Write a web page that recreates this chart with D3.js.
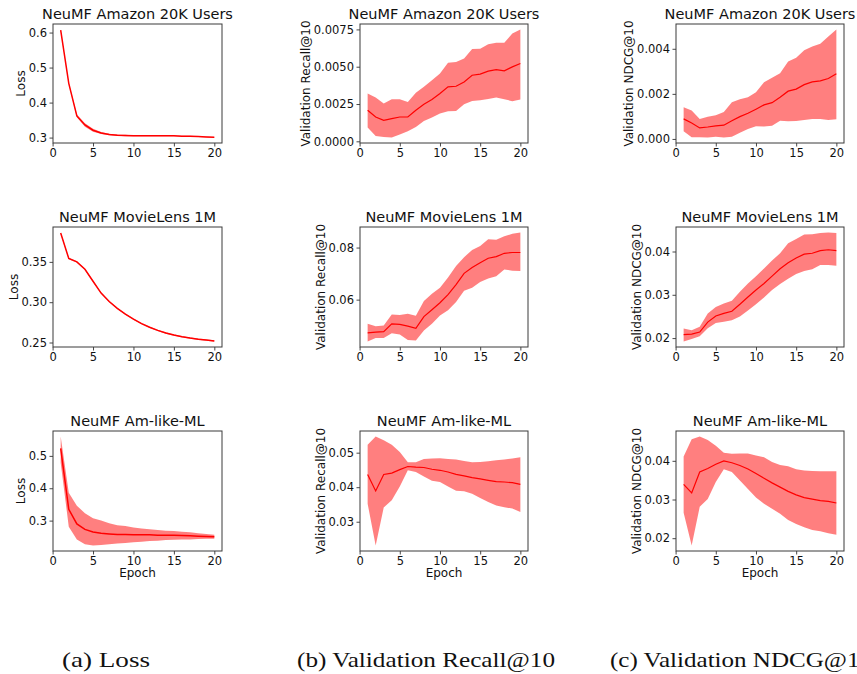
<!DOCTYPE html>
<html>
<head>
<meta charset="utf-8">
<script src="https://cdn.jsdelivr.net/npm/d3@7"></script>
<style>
  body { margin: 0; background: #fff; }
  svg { display: block; font-family: "DejaVu Sans", sans-serif; }
</style>
</head>
<body>
<div id="chart"></div>
<script>
// Epochs on the x axis (same for every panel)
const epochs = d3.range(1, 21);

// Amazon 20K Users
const lossAmzMean = [0.607,0.455,0.362,0.336,0.321,0.313,0.309,0.307,0.306,0.305,0.305,0.305,0.305,0.305,0.305,0.304,0.304,0.303,0.302,0.301];
const lossAmzLo   = [0.605,0.453,0.358,0.331,0.317,0.310,0.307,0.305,0.304,0.304,0.304,0.304,0.304,0.304,0.304,0.303,0.303,0.302,0.301,0.300];
const lossAmzHi   = [0.609,0.457,0.366,0.341,0.325,0.316,0.311,0.309,0.308,0.306,0.306,0.306,0.306,0.306,0.306,0.305,0.305,0.304,0.303,0.302];
const recAmzMean = [0.00208,0.00163,0.00141,0.00152,0.00163,0.00163,0.00208,0.00248,0.00280,0.00320,0.00365,0.00369,0.00398,0.00443,0.00450,0.00470,0.00481,0.00472,0.00499,0.00522];
const recAmzLo   = [0.00092,0.00036,0.00029,0.00025,0.00045,0.00067,0.00096,0.00137,0.00159,0.00186,0.00201,0.00204,0.00248,0.00271,0.00275,0.00284,0.00293,0.00282,0.00269,0.00280];
const recAmzHi   = [0.00320,0.00293,0.00253,0.00282,0.00282,0.00264,0.00325,0.00365,0.00410,0.00454,0.00526,0.00531,0.00555,0.00618,0.00620,0.00651,0.00660,0.00660,0.00723,0.00750];
const ndcgAmzMean = [0.00089,0.00071,0.00049,0.00053,0.00058,0.00061,0.00081,0.00099,0.00114,0.00132,0.00151,0.00161,0.00185,0.00212,0.00221,0.00241,0.00253,0.00258,0.00268,0.00289];
const ndcgAmzLo   = [0.00034,0.00007,0.00007,0.00006,0.00010,0.00006,0.00010,0.00028,0.00044,0.00056,0.00055,0.00058,0.00081,0.00079,0.00080,0.00084,0.00089,0.00089,0.00084,0.00087];
const ndcgAmzHi   = [0.00141,0.00126,0.00089,0.00099,0.00105,0.00119,0.00163,0.00176,0.00185,0.00207,0.00252,0.00271,0.00292,0.00344,0.00360,0.00393,0.00410,0.00422,0.00455,0.00486];

// MovieLens 1M
const lossMlMean = [0.3857,0.3542,0.3500,0.3408,0.3260,0.3113,0.3008,0.2924,0.2853,0.2790,0.2735,0.2689,0.2651,0.2618,0.2592,0.2572,0.2555,0.2541,0.2530,0.2520];
const lossMlLo   = [0.3849,0.3534,0.3492,0.3400,0.3252,0.3105,0.3000,0.2916,0.2845,0.2782,0.2727,0.2681,0.2643,0.2610,0.2584,0.2564,0.2547,0.2533,0.2522,0.2512];
const lossMlHi   = [0.3865,0.3550,0.3508,0.3416,0.3268,0.3121,0.3016,0.2932,0.2861,0.2798,0.2743,0.2697,0.2659,0.2626,0.2600,0.2580,0.2563,0.2549,0.2538,0.2528];
const recMlMean = [0.0472,0.0475,0.0477,0.0507,0.0505,0.0498,0.0490,0.0535,0.0561,0.0588,0.0619,0.0658,0.0701,0.0723,0.0742,0.0759,0.0765,0.0778,0.0781,0.0781];
const recMlLo   = [0.0439,0.0453,0.0453,0.0471,0.0466,0.0445,0.0443,0.0481,0.0507,0.0539,0.0559,0.0591,0.0634,0.0646,0.0668,0.0681,0.0690,0.0716,0.0711,0.0710];
const recMlHi   = [0.0507,0.0498,0.0501,0.0543,0.0541,0.0546,0.0538,0.0595,0.0623,0.0646,0.0685,0.0729,0.0763,0.0791,0.0806,0.0832,0.0830,0.0843,0.0853,0.0858];
const ndcgMlMean = [0.0208,0.0209,0.0214,0.0237,0.0251,0.0257,0.0262,0.0278,0.0295,0.0311,0.0326,0.0343,0.0360,0.0374,0.0385,0.0394,0.0396,0.0402,0.0404,0.0402];
const ndcgMlLo   = [0.0192,0.0198,0.0204,0.0223,0.0235,0.0238,0.0241,0.0250,0.0264,0.0278,0.0294,0.0311,0.0325,0.0337,0.0348,0.0355,0.0359,0.0369,0.0369,0.0367];
const ndcgMlHi   = [0.0222,0.0218,0.0226,0.0257,0.0272,0.0280,0.0286,0.0307,0.0326,0.0343,0.0361,0.0379,0.0396,0.0419,0.0429,0.0439,0.0440,0.0443,0.0444,0.0443];

// Am-like-ML
const lossAlMean = [0.523,0.335,0.290,0.273,0.265,0.261,0.259,0.257,0.257,0.256,0.256,0.256,0.255,0.255,0.255,0.254,0.253,0.252,0.251,0.250];
const lossAlLo   = [0.479,0.281,0.242,0.227,0.223,0.225,0.227,0.229,0.231,0.233,0.235,0.237,0.238,0.240,0.241,0.242,0.242,0.243,0.244,0.244];
const lossAlHi   = [0.560,0.386,0.346,0.323,0.307,0.300,0.292,0.286,0.283,0.279,0.276,0.273,0.271,0.269,0.268,0.266,0.264,0.261,0.259,0.256];
const recAlMean = [0.0437,0.0389,0.0437,0.0441,0.0451,0.0460,0.0458,0.0457,0.0452,0.0449,0.0444,0.0437,0.0433,0.0428,0.0424,0.0420,0.0416,0.0415,0.0413,0.0408];
const recAlLo   = [0.0352,0.0231,0.0341,0.0362,0.0402,0.0449,0.0444,0.0431,0.0419,0.0415,0.0402,0.0390,0.0388,0.0381,0.0369,0.0357,0.0347,0.0342,0.0338,0.0328];
const recAlHi   = [0.0523,0.0547,0.0536,0.0523,0.0502,0.0472,0.0472,0.0482,0.0483,0.0484,0.0482,0.0480,0.0476,0.0472,0.0473,0.0475,0.0478,0.0480,0.0483,0.0487];
const ndcgAlMean = [0.0339,0.0317,0.0371,0.0380,0.0391,0.0400,0.0395,0.0388,0.0379,0.0367,0.0355,0.0343,0.0332,0.0321,0.0312,0.0305,0.0301,0.0297,0.0295,0.0291];
const ndcgAlLo   = [0.0266,0.0181,0.0281,0.0301,0.0345,0.0378,0.0371,0.0349,0.0327,0.0305,0.0289,0.0276,0.0263,0.0247,0.0237,0.0228,0.0221,0.0218,0.0213,0.0209];
const ndcgAlHi   = [0.0411,0.0456,0.0463,0.0454,0.0439,0.0421,0.0418,0.0419,0.0419,0.0414,0.0409,0.0397,0.0389,0.0386,0.0378,0.0375,0.0374,0.0373,0.0373,0.0373];

// titles, labels, ticks
const rowTitles = ["NeuMF Amazon 20K Users", "NeuMF MovieLens 1M", "NeuMF Am-like-ML"];
const colLabels = ["Loss", "Validation Recall@10", "Validation NDCG@10"];
const xTicks = [0, 5, 10, 15, 20];
const yTicks = [
  [[0.3, 0.4, 0.5, 0.6], [0, 0.0025, 0.005, 0.0075], [0, 0.002, 0.004]],
  [[0.25, 0.30, 0.35], [0.06, 0.08], [0.02, 0.03, 0.04]],
  [[0.3, 0.4, 0.5], [0.03, 0.04, 0.05], [0.02, 0.03, 0.04]]
];
const yFormats = [
  [".1f", ".4f", ".3f"],
  [".2f", ".2f", ".2f"],
  [".1f", ".2f", ".2f"]
];
const captions = ["(a) Loss", "(b) Validation Recall@10", "(c) Validation NDCG@10"];

const series = [
  [[lossAmzMean, lossAmzLo, lossAmzHi], [recAmzMean, recAmzLo, recAmzHi], [ndcgAmzMean, ndcgAmzLo, ndcgAmzHi]],
  [[lossMlMean, lossMlLo, lossMlHi], [recMlMean, recMlLo, recMlHi], [ndcgMlMean, ndcgMlLo, ndcgMlHi]],
  [[lossAlMean, lossAlLo, lossAlHi], [recAlMean, recAlLo, recAlHi], [ndcgAlMean, ndcgAlLo, ndcgAlHi]]
];

const W = 857, H = 674;
const COLS = [[53, 222], [360, 528], [676, 844]];
const ROWS = [[24, 143], [227, 347], [431, 551]];

const svg = d3.select("#chart").append("svg")
  .attr("width", W).attr("height", H);

// matplotlib-style 5% margins
function padded(lo, hi) {
  const p = (hi - lo) * 0.05;
  return [lo - p, hi + p];
}

function panel(r, c) {
  const [mean, lo, hi] = series[r][c];
  const [x0, x1] = COLS[c];
  const [y0, y1] = ROWS[r];

  const x = d3.scaleLinear().domain(padded(1, 20)).range([x0, x1]);
  const y = d3.scaleLinear()
    .domain(padded(d3.min(lo.concat(mean)), d3.max(hi.concat(mean))))
    .range([y1, y0]);

  const g = svg.append("g");

  // std band
  const area = d3.area()
    .x((d, i) => x(epochs[i]))
    .y0((d, i) => y(lo[i]))
    .y1((d, i) => y(hi[i]));
  g.append("path").datum(mean)
    .attr("d", area)
    .attr("fill", "#ff0000")
    .attr("fill-opacity", 0.5);

  // mean line
  const line = d3.line()
    .x((d, i) => x(epochs[i]))
    .y(d => y(d));
  g.append("path").datum(mean)
    .attr("d", line)
    .attr("fill", "none")
    .attr("stroke", "#ff0000")
    .attr("stroke-width", c === 0 ? 1.5 : 1.2);

  // axes
  const xAxis = g.append("g")
    .attr("transform", `translate(0,${y1})`)
    .call(d3.axisBottom(x).tickValues(xTicks).tickSize(3.5).tickPadding(2).tickFormat(d3.format("d")));
  const yAxis = g.append("g")
    .attr("transform", `translate(${x0},0)`)
    .call(d3.axisLeft(y).tickValues(yTicks[r][c]).tickSize(3.5).tickPadding(2.5).tickFormat(d3.format(yFormats[r][c])));
  [xAxis, yAxis].forEach(a => {
    a.select(".domain").remove();
    a.selectAll("line").attr("stroke", "#333").attr("stroke-width", 0.9);
    a.selectAll("text").attr("font-size", "11.5px").attr("fill", "#111")
      .attr("font-family", "DejaVu Sans");
  });

  // frame
  g.append("rect")
    .attr("x", x0).attr("y", y0)
    .attr("width", x1 - x0).attr("height", y1 - y0)
    .attr("fill", "none")
    .attr("stroke", "#3a3a3a")
    .attr("stroke-width", 1);

  // title
  g.append("text")
    .attr("x", (x0 + x1) / 2).attr("y", y0 - 5)
    .attr("text-anchor", "middle")
    .attr("font-size", "14.5px")
    .attr("fill", "#111")
    .text(rowTitles[r]);

  // y label, placed left of the widest tick label
  let tw = 0;
  yAxis.selectAll("text").each(function () { tw = Math.max(tw, this.getBBox().width); });
  const lx = x0 - 6 - tw - 8;
  g.append("text")
    .attr("transform", `translate(${lx},${(y0 + y1) / 2}) rotate(-90)`)
    .attr("text-anchor", "middle")
    .attr("dy", "0.35em")
    .attr("font-size", "12px")
    .attr("fill", "#111")
    .text(colLabels[c]);

  if (r === 2) {
    g.append("text")
      .attr("x", (x0 + x1) / 2).attr("y", y1 + 26)
      .attr("text-anchor", "middle")
      .attr("font-size", "12px")
      .attr("fill", "#111")
      .text("Epoch");
  }
}

for (let r = 0; r < 3; r++) {
  for (let c = 0; c < 3; c++) panel(r, c);
}

// sub-figure captions (Computer Modern is wider than Times, so stretch to the measured widths)
const capX = [62, 297, 610];
const capW = [88, 258, 262];
captions.forEach((t, i) => {
  svg.append("text")
    .attr("x", capX[i]).attr("y", 667)
    .attr("font-family", "'Liberation Serif', 'DejaVu Serif', serif")
    .attr("font-size", "21px")
    .attr("fill", "#111")
    .attr("textLength", capW[i])
    .attr("lengthAdjust", "spacingAndGlyphs")
    .text(t);
});
</script>
</body>
</html>
